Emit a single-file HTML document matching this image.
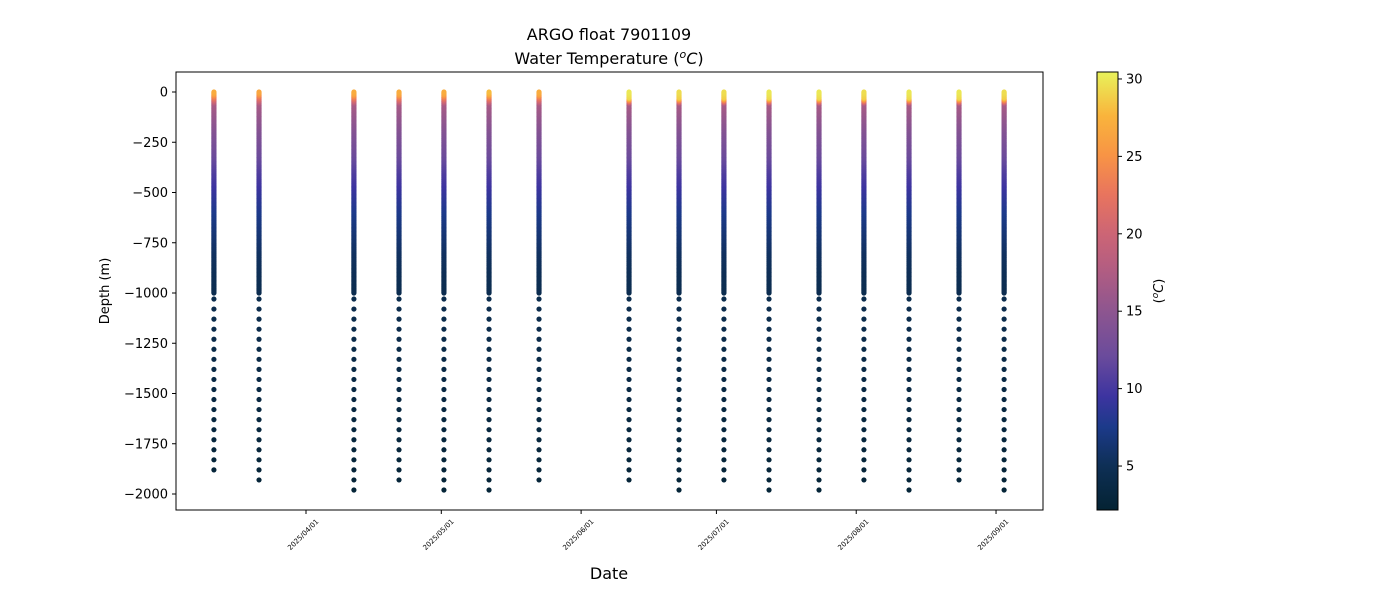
<!DOCTYPE html>
<html><head><meta charset="utf-8"><style>
body{margin:0;background:#fff}
svg text{font-family:"DejaVu Sans","Liberation Sans",sans-serif;fill:#000}
</style></head><body>
<svg id="chart" width="1400" height="600" viewBox="0 0 1400 600">
<defs>
<linearGradient id="cbar" x1="0" y1="1" x2="0" y2="0">
<stop offset="0" stop-color="#042333"/>
<stop offset="0.10" stop-color="#0e2f55"/>
<stop offset="0.19" stop-color="#1c3a8a"/>
<stop offset="0.26" stop-color="#3d34a0"/>
<stop offset="0.35" stop-color="#6a4b9c"/>
<stop offset="0.45" stop-color="#8c5590"/>
<stop offset="0.56" stop-color="#b65e80"/>
<stop offset="0.63" stop-color="#cc6575"/>
<stop offset="0.72" stop-color="#e8745e"/>
<stop offset="0.81" stop-color="#f89445"/>
<stop offset="0.90" stop-color="#f9b43c"/>
<stop offset="1" stop-color="#e8f25a"/>
</linearGradient>
</defs>
<g>
<text x="609" y="40" font-size="16" text-anchor="middle">ARGO float 7901109</text>
<text x="609" y="64" font-size="16" text-anchor="middle">Water Temperature (<tspan font-style="italic" baseline-shift="super" font-size="11">o</tspan><tspan font-style="italic">C</tspan>)</text>
</g>
<rect x="176" y="72" width="867" height="438" fill="none" stroke="#000" stroke-width="1"/>
<g id="marks"></g>
<g id="yaxis"></g>
<g id="xaxis"></g>
<text x="0" y="0" font-size="13" text-anchor="middle" transform="translate(109,291) rotate(-90)">Depth (m)</text>
<text x="609" y="579" font-size="16" text-anchor="middle">Date</text>
<rect x="1097" y="72" width="21" height="438" fill="url(#cbar)" stroke="#000" stroke-width="1"/>
<g id="cbticks"></g>
<text x="0" y="0" font-size="13" text-anchor="middle" transform="translate(1163,291) rotate(-90)">(<tspan font-style="italic" baseline-shift="super" font-size="9">o</tspan><tspan font-style="italic">C</tspan>)</text>
</svg>
<script>
const profileDates = ["2025-03-11T14:00","2025-03-21T14:00","2025-04-11T15:00","2025-04-21T15:00","2025-05-01T14:00","2025-05-11T14:00","2025-05-22T16:00","2025-06-11T15:00","2025-06-22T17:00","2025-07-02T16:00","2025-07-12T16:00","2025-07-23T18:00","2025-08-02T17:00","2025-08-12T17:00","2025-08-23T19:00","2025-09-02T19:00"];
const profileMaxDepth = [1880,1930,1980,1930,1980,1980,1930,1930,1980,1930,1980,1980,1930,1980,1930,1980];
const surfaceTemp = [27,26.5,27,27,27,28,27,30,29.5,29.5,30,30,29.5,30,30,29.5];
const mixedDepth = [10,8,12,12,12,10,12,30,30,30,30,30,30,30,30,30];
const anchorDepths = [60,100,200,300,400,500,600,700,800,1000,1500,2000];
const anchorTemps = [17,16,14,12.5,10.5,9,7.5,6.5,5.5,4.5,3.5,2.5];
const yTicks = [0,-250,-500,-750,-1000,-1250,-1500,-1750,-2000];
const xTicks = ["2025/04/01","2025/05/01","2025/06/01","2025/07/01","2025/08/01","2025/09/01"];
const cbTicks = [5,10,15,20,25,30];

const NS="http://www.w3.org/2000/svg";
const day0 = Date.UTC(2025,3,1);
function xScale(d){let s=d.replace(/\//g,"-");s+= s.includes("T") ? ":00Z" : "T00:00:00Z";const t=(Date.parse(s)-day0)/86400000;return 306+t*4.51;}
function yScale(v){return 92+(-v)*0.201;}
const tMin=2.16,tMax=30.45;
function cbY(t){return 510-(t-tMin)/(tMax-tMin)*438;}
const stops=[[0,[4,35,51]],[0.10,[14,47,85]],[0.19,[28,58,138]],[0.26,[61,52,160]],[0.35,[106,75,156]],[0.45,[140,85,144]],[0.56,[182,94,128]],[0.63,[204,101,117]],[0.72,[232,116,94]],[0.81,[248,148,69]],[0.90,[249,180,60]],[1,[232,242,90]]];
function color(t){let f=Math.max(0,Math.min(1,(t-tMin)/(tMax-tMin)));for(let i=1;i<stops.length;i++){if(f<=stops[i][0]){const a=stops[i-1],b=stops[i];const u=(f-a[0])/(b[0]-a[0]);return "rgb("+a[1].map((c,k)=>Math.round(c+(b[1][k]-c)*u)).join(",")+")";}}return "rgb(232,242,90)";}
function tempAt(z,p){
  const s=surfaceTemp[p],m=mixedDepth[p];
  if(z<=m) return s-(z/Math.max(m,1))*0.8;
  if(z<=anchorDepths[0]){const u=(z-m)/(anchorDepths[0]-m);return (s-0.8)+(anchorTemps[0]-(s-0.8))*u;}
  for(let i=1;i<anchorDepths.length;i++){if(z<=anchorDepths[i]){const u=(z-anchorDepths[i-1])/(anchorDepths[i]-anchorDepths[i-1]);return anchorTemps[i-1]+(anchorTemps[i]-anchorTemps[i-1])*u;}}
  return anchorTemps[anchorTemps.length-1];
}

const marks=document.getElementById("marks");
profileDates.forEach((d,p)=>{
  const g=document.createElementNS(NS,"g");
  
  
  const x=xScale(d);
  const levels=[];
  for(let z=1000;z>=0;z-=4)levels.push(z);
  for(let z=1030;z<=profileMaxDepth[p];z+=50)levels.push(z);
  levels.sort((a,b)=>b-a);
  levels.forEach(z=>{
    const c=document.createElementNS(NS,"circle");
    
    
    c.setAttribute("cx",x);c.setAttribute("cy",yScale(-z));c.setAttribute("r",2.6);
    c.setAttribute("fill",color(tempAt(z,p)));
    g.appendChild(c);
  });
  marks.appendChild(g);
});
const ya=document.getElementById("yaxis");
yTicks.forEach(v=>{
  const y=yScale(v);
  const l=document.createElementNS(NS,"line");
  
  
  l.setAttribute("x1",172);l.setAttribute("x2",176);l.setAttribute("y1",y);l.setAttribute("y2",y);l.setAttribute("stroke","#000");
  ya.appendChild(l);
  const t=document.createElementNS(NS,"text");
  
  
  t.setAttribute("x",168);t.setAttribute("y",y+4.5);t.setAttribute("font-size","13");t.setAttribute("text-anchor","end");
  t.textContent=v<0?"\u2212"+(-v):String(v);
  ya.appendChild(t);
});
const xa=document.getElementById("xaxis");
xTicks.forEach(s=>{
  const x=xScale(s);
  const l=document.createElementNS(NS,"line");
  
  
  l.setAttribute("x1",x);l.setAttribute("x2",x);l.setAttribute("y1",510);l.setAttribute("y2",514);l.setAttribute("stroke","#000");
  xa.appendChild(l);
  const t=document.createElementNS(NS,"text");
  
  
  t.setAttribute("font-size","7");t.setAttribute("text-anchor","end");
  t.setAttribute("transform","translate("+(x+13)+",522) rotate(-45)");
  t.textContent=s;
  xa.appendChild(t);
});
const cb=document.getElementById("cbticks");
cbTicks.forEach(v=>{
  const y=cbY(v);
  const l=document.createElementNS(NS,"line");
  
  
  l.setAttribute("x1",1118);l.setAttribute("x2",1122);l.setAttribute("y1",y);l.setAttribute("y2",y);l.setAttribute("stroke","#000");
  cb.appendChild(l);
  const t=document.createElementNS(NS,"text");
  
  
  t.setAttribute("x",1126);t.setAttribute("y",y+4.5);t.setAttribute("font-size","13");
  t.textContent=String(v);
  cb.appendChild(t);
});
</script>
</body></html>
